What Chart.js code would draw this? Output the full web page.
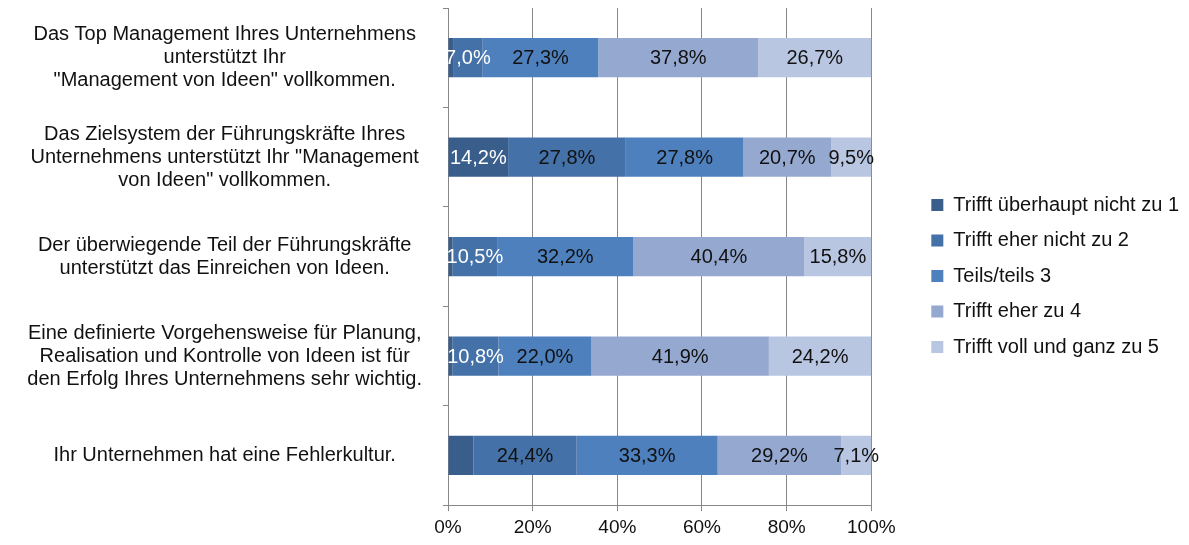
<!DOCTYPE html>
<html>
<head>
<meta charset="utf-8">
<script src="https://cdn.jsdelivr.net/npm/chart.js@4/dist/chart.umd.min.js"></script>
<style>
html,body{margin:0;padding:0;background:#fff;}
#wrap{width:1189px;height:545px;}
</style>
</head>
<body>
<div id="wrap"><canvas id="c" width="1189" height="545"></canvas></div>
<script>
const categories = [
  ["Das Top Management Ihres Unternehmens", "unterstützt Ihr", "\"Management von Ideen\" vollkommen."],
  ["Das Zielsystem der Führungskräfte Ihres", "Unternehmens unterstützt Ihr \"Management", "von Ideen\" vollkommen."],
  ["Der überwiegende Teil der Führungskräfte", "unterstützt das Einreichen von Ideen."],
  ["Eine definierte Vorgehensweise für Planung,", "Realisation und Kontrolle von Ideen ist für", "den Erfolg Ihres Unternehmens sehr wichtig."],
  ["Ihr Unternehmen hat eine Fehlerkultur."]
];
const seriesNames = ["Trifft überhaupt nicht zu 1", "Trifft eher nicht zu 2", "Teils/teils 3", "Trifft eher zu 4", "Trifft voll und ganz zu 5"];
const s1 = [1.2, 14.2, 1.1, 1.1, 6.0];
const s2 = [7.0, 27.8, 10.5, 10.8, 24.4];
const s3 = [27.3, 27.8, 32.2, 22.0, 33.3];
const s4 = [37.8, 20.7, 40.4, 41.9, 29.2];
const s5 = [26.7, 9.5, 15.8, 24.2, 7.1];
const xTicks = [0, 20, 40, 60, 80, 100];

const colors = ["#3A5E8C", "#4471A7", "#4E80BD", "#95A8D0", "#B9C6E2"];
const FONT = "'Liberation Sans', Arial, sans-serif";
const GRID = "#878787";

const seriesValues = [s1, s2, s3, s4, s5];
const datasets = seriesValues.map((vals, i) => ({
  label: seriesNames[i],
  data: vals,
  backgroundColor: colors[i],
  borderWidth: 0,
  categoryPercentage: 1,
  barPercentage: 0.395
}));

const labelPlugin = {
  id: 'segLabels',
  afterDatasetsDraw(chart) {
    const ctx = chart.ctx;
    ctx.save();
    ctx.font = "20px " + FONT;
    ctx.textAlign = 'center';
    ctx.textBaseline = 'middle';
    chart.data.datasets.forEach((ds, di) => {
      const meta = chart.getDatasetMeta(di);
      meta.data.forEach((bar, j) => {
        const v = ds.data[j];
        if (v < 7) return;
        const cx = (bar.x + bar.base) / 2;
        ctx.fillStyle = (di <= 1 && v < 15) ? "#ffffff" : "#111111";
        ctx.fillText(v.toFixed(1).replace('.', ',') + '%', cx, bar.y + 1);
      });
    });
    ctx.restore();
  }
};

// empty layout box that keeps a gap between plot area and legend
const spacerPlugin = {
  id: 'legendGap',
  beforeInit(chart) {
    const box = {
      position: 'right',
      weight: 500,
      fullSize: false,
      options: {},
      width: 0, height: 0, left: 0, top: 0, right: 0, bottom: 0,
      isHorizontal() { return false; },
      update(maxWidth, maxHeight) { this.width = 44.5; this.height = maxHeight; },
      draw() {}
    };
    Chart.layouts.addBox(chart, box);
  }
};

new Chart(document.getElementById('c'), {
  type: 'bar',
  data: { labels: categories, datasets },
  options: {
    indexAxis: 'y',
    responsive: false,
    animation: false,
    layout: { padding: { top: 8, right: 0, bottom: 1, left: 0 } },
    scales: {
      x: {
        stacked: true,
        min: 0, max: 100,
        afterBuildTicks(scale) { scale.ticks = xTicks.map(v => ({ value: v })); },
        ticks: {
          callback: v => v + '%',
          font: { size: 19, family: FONT },
          color: "#111111",
          padding: 5
        },
        grid: { color: GRID, lineWidth: 1, tickLength: 6, drawTicks: true },
        border: { color: GRID, width: 1 }
      },
      y: {
        stacked: true,
        afterFit(scale) { scale.width = 448; scale.paddingTop = 0; scale.paddingBottom = 0; },
        ticks: {
          crossAlign: 'center',
          padding: 21,
          font: { size: 20, family: FONT, lineHeight: 1.15 },
          color: "#111111",
          autoSkip: false
        },
        grid: { drawOnChartArea: false, drawTicks: true, tickLength: 5, color: GRID, offset: true },
        border: { color: GRID, width: 1 }
      }
    },
    plugins: {
      legend: {
        position: 'right',
        align: 'center',
        maxWidth: 320,
        labels: {
          boxWidth: 12,
          boxHeight: 12,
          padding: 15.5,
          font: { size: 20, family: FONT },
          color: "#111111"
        }
      },
      tooltip: { enabled: false }
    }
  },
  plugins: [labelPlugin, spacerPlugin]
});
</script>
</body>
</html>
